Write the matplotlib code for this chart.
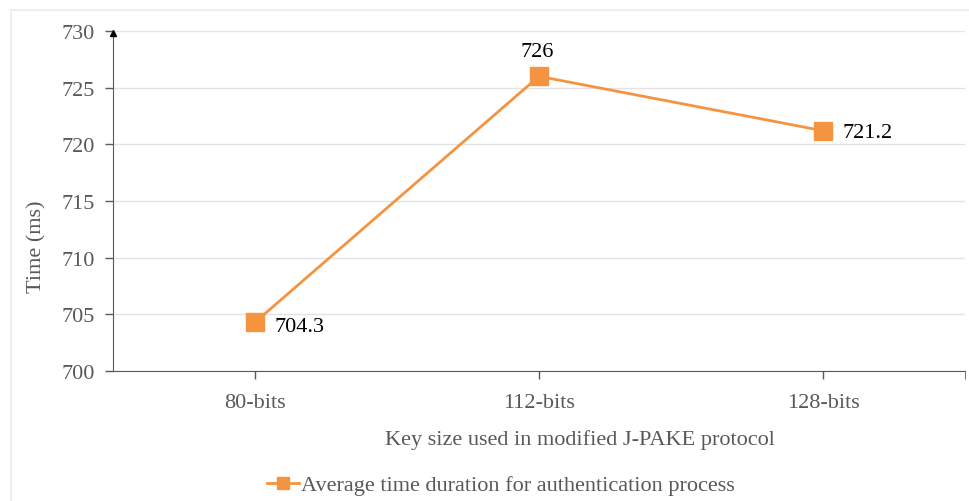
import matplotlib.pyplot as plt
from matplotlib.lines import Line2D

plt.rcParams['font.family'] = ['Liberation Serif', 'DejaVu Serif']

categories = ["80-bits", "112-bits", "128-bits"]
times = [704.3, 726, 721.2]
labels = ["704.3", "726", "721.2"]
yticks = [700, 705, 710, 715, 720, 725, 730]

orange = "#F59440"
grey = "#595959"

fig = plt.figure(figsize=(9.7, 5.02), dpi=100)
ax = fig.add_axes([113 / 970, 1 - 372 / 502, (965 - 113) / 970, (372 - 32) / 502])

# faint outer frame
fig.add_artist(Line2D([11 / 970, 11 / 970], [0, 1 - 11 / 502], color="#eeeeee", lw=1.5))
fig.add_artist(Line2D([11 / 970, 1], [1 - 11 / 502, 1 - 11 / 502], color="#eeeeee", lw=1.5))

x = list(range(len(categories)))
ax.plot(x, times, color=orange, lw=2, marker="s", markersize=13.5, zorder=3)

# data labels
ax.annotate(labels[0], (x[0], times[0]), xytext=(14, -3), textcoords="offset points",
            ha="left", va="center", fontsize=16, color="black")
ax.annotate(labels[1], (x[1], times[1]), xytext=(-1, 18), textcoords="offset points",
            ha="center", va="center", fontsize=16, color="black")
ax.annotate(labels[2], (x[2], times[2]), xytext=(14, -1), textcoords="offset points",
            ha="left", va="center", fontsize=16, color="black")

ax.set_xlim(-0.5, 2.5)
ax.set_ylim(700, 730)
ax.set_yticks(yticks)
ax.set_xticks(x)
ax.set_xticklabels(categories)
ax.set_xticks([2.5], minor=True)
ax.tick_params(axis="both", colors=grey, labelsize=16, length=6, width=1, labelcolor=grey)
ax.tick_params(axis="x", which="minor", length=6, color=grey)
ax.tick_params(axis="x", pad=10)
ax.tick_params(axis="y", pad=7)

ax.grid(axis="y", color="#e3e3e3", lw=1)
ax.set_axisbelow(True)
for s in ["top", "right"]:
    ax.spines[s].set_visible(False)
ax.spines["left"].set_color(grey)
ax.spines["bottom"].set_color(grey)

# arrow head on y axis
ax.plot([-0.5], [729.8], marker="^", color="black", markersize=5, clip_on=False, zorder=4)

ax.set_ylabel("Time (ms)", fontsize=16, color=grey)
ax.yaxis.set_label_coords(-0.078, 0.368)
ax.set_xlabel("Key size used in modified J-PAKE protocol", fontsize=16, color=grey)
ax.xaxis.set_label_coords(0.548, -0.17)

handle = Line2D([], [], color=orange, lw=2, marker="s", markersize=9)
fig.legend([handle], ["Average time duration for authentication process"],
           loc="center", bbox_to_anchor=(501 / 970, 1 - 486 / 502), frameon=False,
           fontsize=16, labelcolor=grey, handlelength=1.4, handletextpad=0.1)

fig.savefig("out.png", dpi=100)
